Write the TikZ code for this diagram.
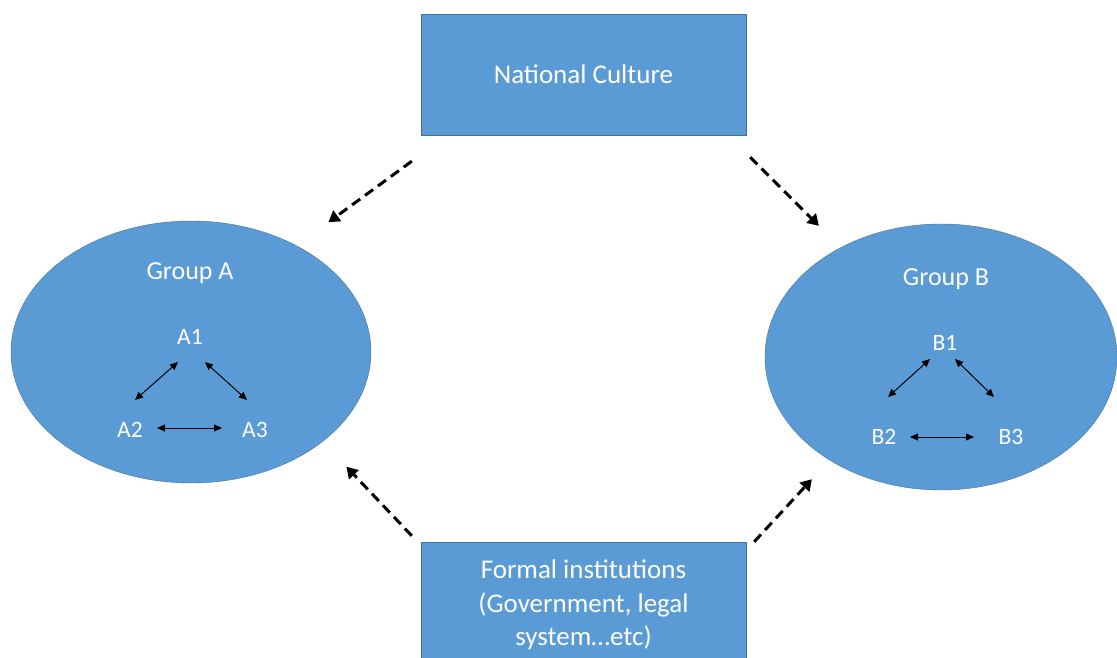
\documentclass[tikz,border=0pt]{standalone}
\usepackage{fontspec}
\setmainfont{Carlito}
\usetikzlibrary{shapes.geometric,arrows.meta}
\definecolor{boxblue}{HTML}{5B9BD5}
\definecolor{boxedge}{HTML}{41719C}
\tikzset{
  block/.style={rectangle,draw=boxedge,fill=boxblue,text=white,minimum width=325pt,minimum height=121pt,align=center,font=\fontsize{27}{33.5}\selectfont},
  group/.style={ellipse,draw=boxedge,fill=boxblue,inner sep=0pt},
  title/.style={text=white,font=\fontsize{26}{30}\selectfont},
  member/.style={text=white,font=\fontsize{23.5}{28}\selectfont},
  influence/.style={->,line width=3pt,dash pattern=on 10pt off 6pt,>={Triangle[length=11pt,width=13pt]}},
  link/.style={<->,line width=1pt,>={Triangle[length=8pt,width=7pt]}}
}
\begin{document}
\begin{tikzpicture}[x=1pt,y=-1pt]
        \useasboundingbox (0,0) rectangle (1117,658);

        % Boxes
        \node[block] (nc) at (583.5,74.5) {National Culture};
        \node[block,minimum height=126pt] (fi) at (583.5,605) {Formal institutions\\(Government, legal\\system…etc)};

        % Groups
        \node[group,minimum width=360pt,minimum height=262pt] (ga) at (191,352) {};
        \node[group,minimum width=352pt,minimum height=266pt] (gb) at (941,357) {};
        \node[title] (gat) at (190,273) {Group A};
        \node[title] (gbt) at (946,279) {Group B};

        % Members
        \node[member] (a1) at (190,337) {A1};
        \node[member] (a2) at (130,430) {A2};
        \node[member] (a3) at (255,430) {A3};
        \node[member] (b1) at (945,343) {B1};
        \node[member] (b2) at (884,437) {B2};
        \node[member] (b3) at (1011,437) {B3};

        % Links inside the groups
        \draw[link] ([shift={(-12,25)}]a1.center) -- ([shift={(5,-30)}]a2.center);
        \draw[link] ([shift={(15,25)}]a1.center) -- ([shift={(-8,-30)}]a3.center);
        \draw[link] ([shift={(27,-2)}]a2.center) -- ([shift={(-33,-2)}]a3.center);
        \draw[link] ([shift={(-15,16)}]b1.center) -- ([shift={(4,-40)}]b2.center);
        \draw[link] ([shift={(10,16)}]b1.center) -- ([shift={(-17,-40)}]b3.center);
        \draw[link] ([shift={(26,0)}]b2.center) -- ([shift={(-37,0)}]b3.center);

        % Influences
        \draw[influence] ([shift={(-9,26)}]nc.south west) -- ([shift={(10,-37)}]ga.north east);
        \draw[influence] ([shift={(4,22)}]nc.south east) -- ([shift={(2.5,-37)}]gb.north west);
        \draw[influence] ([shift={(-9,-6)}]fi.north west) -- ([shift={(28,22)}]ga.south east);
        \draw[influence] ([shift={(8,0)}]fi.north east) -- ([shift={(-4.5,28)}]gb.south west);
      \end{tikzpicture}
\end{document}
